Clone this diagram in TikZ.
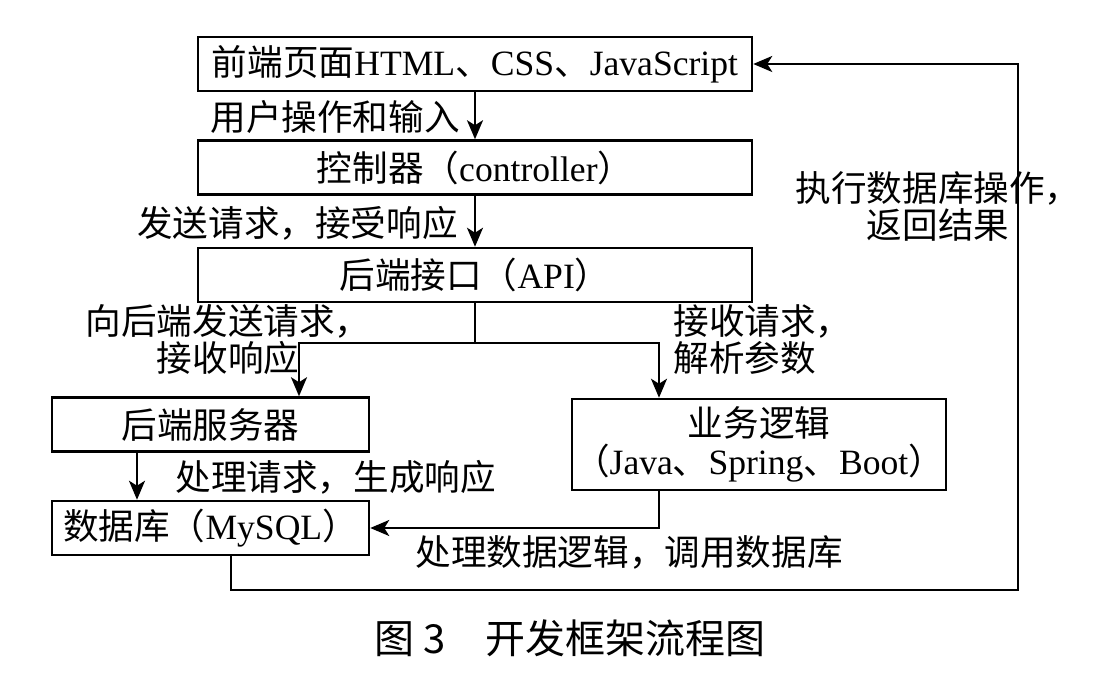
\documentclass[tikz,border=0pt]{standalone}
\usepackage{fontspec}
\setmainfont{Liberation Serif}
\newfontfamily\cjk{Noto Sans CJK SC}
\newcommand\zh[1]{{\cjk #1}}
\usetikzlibrary{positioning,arrows.meta}

\begin{document}
\begin{tikzpicture}[
		x=0.5pt, y=-0.5pt,
		node distance=23.5pt,
		blk/.style={draw, line width=1.25pt, inner sep=0pt, minimum height=27pt, align=center, font=\fontsize{17.8}{19}\selectfont},
		txt/.style={inner sep=0pt, font=\cjk\fontsize{17.8}{18.5}\selectfont},
		flow/.style={line width=1.2pt, -{Stealth[length=9.5pt,width=8pt,inset=2.5pt]}},
	]
		\useasboundingbox (0,0) rectangle (1096,683);
		\node [blk, minimum width=277pt] (fe) at (475,64) {\zh{前端页面}HTML\zh{、}CSS\zh{、}JavaScript};
		\node [blk, minimum width=277pt, below=of fe] (ctl) {\zh{控制器（}controller\zh{）}};
		\node [blk, minimum width=277pt, below=25.5pt of ctl] (api) {\zh{后端接口（}API\zh{）}};
		\node [blk, minimum width=158.5pt] (srv) at (210.5,424.5) {\zh{后端服务器}};
		\node [blk, minimum width=158.5pt, below=of srv] (db) {\zh{数据库（}MySQL\zh{）}};
		\node [blk, minimum width=187pt, minimum height=45.5pt] (biz) at (759,444.5) {\zh{业务逻辑}\\\zh{（}Java\zh{、}Spring\zh{、}Boot\zh{）}};
		\coordinate (split) at (475,343);
		\coordinate (fb) at (1018,590);
		
		\draw [flow] (fe) -- (ctl);
		\draw [flow] (ctl) -- (api);
		\draw [line width=1.2pt] (api) -- (split);
		\draw [flow] (split) -| ([xshift=44.25pt]srv.north);
		\draw [flow] (split) -| ([xshift=-50pt]biz.north);
		\draw [flow] ([xshift=-36.75pt]srv.south) -- ([xshift=-36.75pt]srv.south |- db.north);
		\draw [flow] ([xshift=-50pt]biz.south) |- (db.east);
		\draw [flow] ([xshift=10.25pt]db.south) |- (fb) |- (fe.east);
		
		\node [txt, anchor=east] (l1) at (460,117) {用户操作和输入};
		\node [txt, anchor=east] (l2) at (458,223) {发送请求，接受响应};
		\node [txt, align=center] (l3) at (228,340) {向后端发送请求，\\接收响应};
		\node [txt, align=left, anchor=west] (l4) at (673,340) {接收请求，\\解析参数};
		\node [txt, anchor=west] (l5) at (175,477) {处理请求，生成响应};
		\node [txt, anchor=west] (l6) at (415,552) {处理数据逻辑，调用数据库};
		\node [txt, align=center] (l7) at (938,206) {执行数据库操作，\\返回结果};
		\node [inner sep=0pt, font=\cjk\fontsize{20}{24}\selectfont] (cap) at (570,638) {图~3\quad 开发框架流程图};
	\end{tikzpicture}
\end{document}
